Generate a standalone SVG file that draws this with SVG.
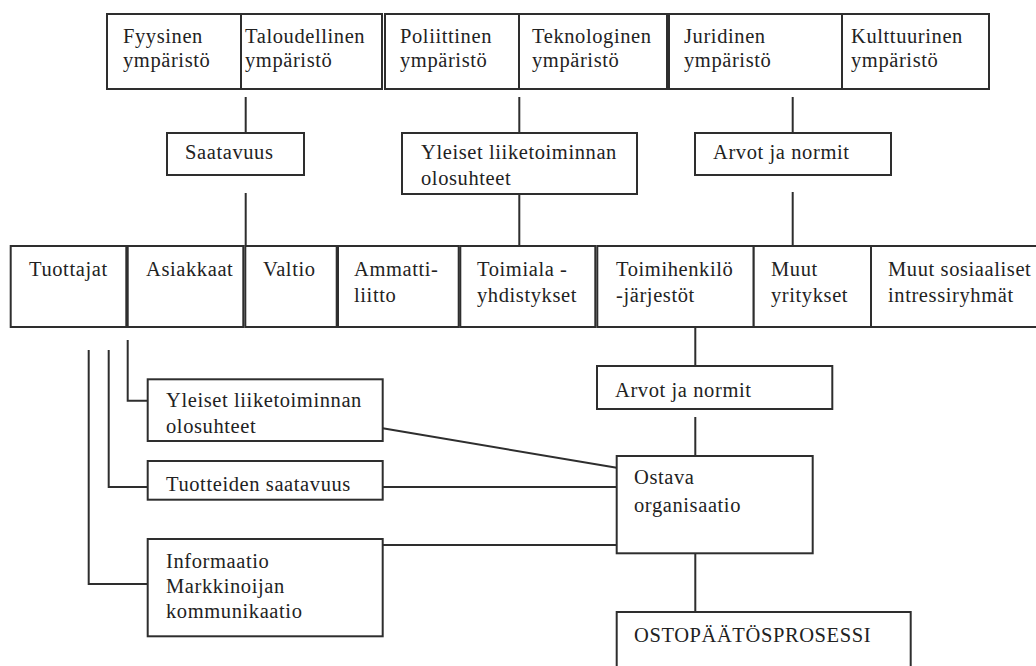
<svg xmlns="http://www.w3.org/2000/svg" width="1036" height="666" viewBox="0 0 1036 666">
<style>
.b{fill:#fff;stroke:#2e2e2e;stroke-width:2}
.c{fill:none;stroke:#2e2e2e;stroke-width:2}
.t text{font-size:20.5px;letter-spacing:0.6px;fill:#222}
</style>
<rect width="1036" height="666" fill="#fff"/>
<g id="connectors">
<path class="c" d="M245.7 97V133M245.7 193V246"/>
<path class="c" d="M519.3 97V133M519.3 194V246"/>
<path class="c" d="M792.7 97V133M792.7 192V246"/>
<path class="c" d="M695.3 327V366M695.3 417V456M695.3 553V612"/>
<path class="c" d="M127.7 340V400.7H147.7"/>
<path class="c" d="M108.7 350V487H147.7"/>
<path class="c" d="M88.7 350V584H147.7"/>
<path class="c" d="M382.7 428.3L616.7 467.7"/>
<path class="c" d="M382.7 487H616.7"/>
<path class="c" d="M382.7 545H616.7"/>
</g>
<g class="t" font-family="'Liberation Serif', 'DejaVu Serif', serif">
<g id="fyysinen"><rect class="b" x="107" y="14" width="134" height="75"/><text x="123" y="43">Fyysinen</text><text x="123" y="67">ympäristö</text></g>
<g id="taloudellinen"><rect class="b" x="241" y="14" width="141" height="75"/><text x="245" y="43">Taloudellinen</text><text x="245" y="67">ympäristö</text></g>
<g id="poliittinen"><rect class="b" x="385" y="14" width="134" height="75"/><text x="400" y="43">Poliittinen</text><text x="400" y="67">ympäristö</text></g>
<g id="teknologinen"><rect class="b" x="519" y="14" width="148" height="75"/><text x="532" y="43">Teknologinen</text><text x="532" y="67">ympäristö</text></g>
<g id="juridinen"><rect class="b" x="669" y="14" width="173" height="75"/><text x="684" y="43">Juridinen</text><text x="684" y="67">ympäristö</text></g>
<g id="kulttuurinen"><rect class="b" x="842" y="14" width="147" height="75"/><text x="851" y="43">Kulttuurinen</text><text x="851" y="67">ympäristö</text></g>
<g id="saatavuus"><rect class="b" x="167" y="133" width="137" height="42"/><text x="185" y="159">Saatavuus</text></g>
<g id="yleiset1"><rect class="b" x="402" y="133" width="235" height="61"/><text x="421" y="159">Yleiset  liiketoiminnan</text><text x="421" y="185">olosuhteet</text></g>
<g id="arvot1"><rect class="b" x="695" y="133" width="196" height="42"/><text x="713" y="159">Arvot ja normit</text></g>
<g id="tuottajat"><rect class="b" x="10.7" y="246" width="115.6" height="81"/><text x="29" y="276">Tuottajat</text></g>
<g id="asiakkaat"><rect class="b" x="127.7" y="246" width="115.6" height="81"/><text x="146" y="276">Asiakkaat</text></g>
<g id="valtio"><rect class="b" x="245.3" y="246" width="91.4" height="81"/><text x="263" y="276">Valtio</text></g>
<g id="ammattiliitto"><rect class="b" x="338" y="246" width="120.7" height="81"/><text x="354" y="276">Ammatti-</text><text x="354" y="302">liitto</text></g>
<g id="toimiala"><rect class="b" x="460.3" y="246" width="135" height="81"/><text x="477" y="276">Toimiala -</text><text x="477" y="302">yhdistykset</text></g>
<g id="toimihenkilo"><rect class="b" x="597.3" y="246" width="156.4" height="81"/><text x="616" y="276">Toimihenkilö</text><text x="616" y="302">-järjestöt</text></g>
<g id="muutyritykset"><rect class="b" x="753.7" y="246" width="117.3" height="81"/><text x="771" y="276">Muut</text><text x="771" y="302">yritykset</text></g>
<g id="muutsosiaaliset"><rect class="b" x="871" y="246" width="180" height="81"/><text x="888" y="276">Muut sosiaaliset</text><text x="888" y="302">intressiryhmät</text></g>
<g id="arvot2"><rect class="b" x="597" y="366" width="235.3" height="43"/><text x="615" y="397">Arvot ja normit</text></g>
<g id="yleiset2"><rect class="b" x="147.7" y="379.3" width="235" height="61.7"/><text x="166" y="407">Yleiset liiketoiminnan</text><text x="166" y="433">olosuhteet</text></g>
<g id="tuotteiden"><rect class="b" x="147.7" y="461" width="235" height="38.7"/><text x="166" y="491">Tuotteiden saatavuus</text></g>
<g id="informaatio"><rect class="b" x="147.7" y="539" width="235" height="97.3"/><text x="166" y="568">Informaatio</text><text x="166" y="593">Markkinoijan</text><text x="166" y="618">kommunikaatio</text></g>
<g id="ostava"><rect class="b" x="616.7" y="456" width="196" height="97.3"/><text x="634" y="484">Ostava</text><text x="634" y="512">organisaatio</text></g>
<g id="ostopaatos"><rect class="b" x="616.7" y="612" width="294" height="70"/><text x="634" y="642">OSTOPÄÄTÖSPROSESSI</text></g>
</g>
</svg>
